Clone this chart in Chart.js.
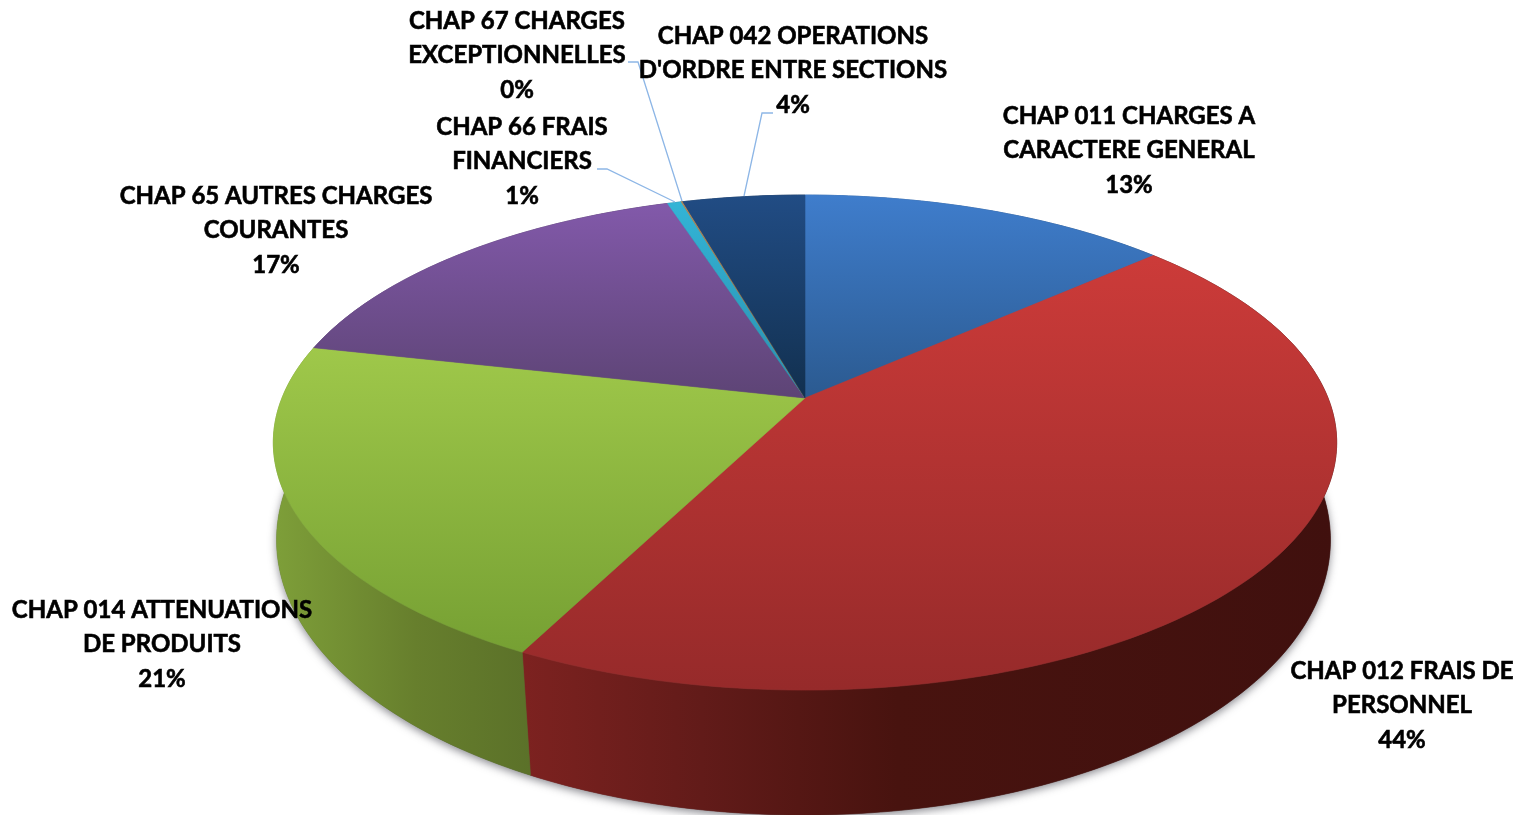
<!DOCTYPE html>
<html>
<head>
<meta charset="utf-8">
<title>Chapitres</title>
<script src="https://cdn.jsdelivr.net/npm/chart.js@4"></script>
<style>
  html, body { margin: 0; padding: 0; background: #fff; overflow: hidden; }
  canvas { display: block; }
</style>
</head>
<body>
<canvas id="piechart" width="1519" height="815"></canvas>
<script>
// data
var categories = [
    ['CHAP 011 CHARGES A', 'CARACTERE GENERAL'],
    ['CHAP 012 FRAIS DE', 'PERSONNEL'],
    ['CHAP 014 ATTENUATIONS', 'DE PRODUITS'],
    ['CHAP 65 AUTRES CHARGES', 'COURANTES'],
    ['CHAP 66 FRAIS', 'FINANCIERS'],
    ['CHAP 67 CHARGES', 'EXCEPTIONNELLES'],
    ["CHAP 042 OPERATIONS", "D'ORDRE ENTRE SECTIONS"]
];
var values = [13.4, 44.1, 21, 16.52, 0.5, 0.06, 4.42];

// styles
var topLight = ['#3f7dcc', '#cc3b39', '#9fc84a', '#8259aa', '#33b4d6', '#b98a55', '#214c84'];
var topDark = ['#2b5a90', '#962a2a', '#76a033', '#5d4475', '#2a8fae', '#a06a30', '#12304f'];
var wallStops = [
    [[0, '#2d5f9c'], [1, '#1d4068']],
    [[0, '#7d2220'], [0.22, '#621b19'], [0.46, '#48130f'], [1, '#40100e']],
    [[0, '#7e9f39'], [0.55, '#677f2d'], [1, '#5b7129']],
    [[0, '#5c4276'], [1, '#3f2d52']],
    [[0, '#2a8fae'], [1, '#1e6a82']],
    [[0, '#a06a30'], [1, '#70491f']],
    [[0, '#12325a'], [1, '#0c2340']]
];

// layout: where the labels sit, and their leader lines
var labelCentres = [[1129, 116], [1402, 671], [162, 610], [276, 196], [522, 127], [517, 21], [793, 36]];
var leaderLines = [
    [[597, 169], [607, 169], [675, 202]],
    [[628, 62], [638, 62], [682, 201]],
    [[773, 113], [762, 113], [744, 196]]
];
var lineStep = 34.5;

// perspective projection of the flat pie, top face and base
var topFace = { x: 805, y: 398, a: 523, b: 239.5, p: 0.18 };
var baseFace = { x: 803.5, y: 498.8, a: 521, b: 268.8, p: 0.15 };

function project(face, angle) {
    var u = Math.cos(angle), v = Math.sin(angle);
    var w = 1 - face.p * v;
    return [face.x + face.a * u / w, face.y + face.b * v / w];
}

function rimPoints(face, start, end) {
    var n = Math.max(2, Math.ceil((end - start) * 60));
    var pts = [];
    for (var i = 0; i <= n; i++) {
        pts.push(project(face, start + (end - start) * i / n));
    }
    return pts;
}

function tracePath(ctx, pts) {
    ctx.beginPath();
    pts.forEach(function (p, i) {
        if (i === 0) ctx.moveTo(p[0], p[1]); else ctx.lineTo(p[0], p[1]);
    });
    ctx.closePath();
}

var pie3d = {
    id: 'pie3d',
    beforeDatasetsDraw: function (chart) {
        var ctx = chart.ctx;
        var arcs = chart.getDatasetMeta(0).data;
        ctx.save();

        // soft shadow under the base
        ctx.save();
        ctx.shadowColor = 'rgba(60,60,70,0.6)';
        ctx.shadowBlur = 9;
        ctx.shadowOffsetY = 3;
        ctx.fillStyle = '#555';
        tracePath(ctx, rimPoints(baseFace, 0, Math.PI * 2));
        ctx.fill();
        ctx.restore();

        // side wall
        arcs.forEach(function (arc, i) {
            var rimTop = rimPoints(topFace, arc.startAngle, arc.endAngle);
            var rimBase = rimPoints(baseFace, arc.startAngle, arc.endAngle);
            var pts = rimTop.concat(rimBase.slice().reverse());
            var xs = pts.map(function (p) { return p[0]; });
            var g = ctx.createLinearGradient(Math.min.apply(null, xs), 0, Math.max.apply(null, xs), 0);
            wallStops[i].forEach(function (s) { g.addColorStop(s[0], s[1]); });
            tracePath(ctx, pts);
            ctx.fillStyle = g;
            ctx.strokeStyle = g;
            ctx.lineWidth = 0.6;
            ctx.fill();
            ctx.stroke();
        });

        // top face, each slice shaded over its own height
        arcs.forEach(function (arc, i) {
            var pts = [[topFace.x, topFace.y]].concat(rimPoints(topFace, arc.startAngle, arc.endAngle));
            var ys = pts.map(function (p) { return p[1]; });
            var g = ctx.createLinearGradient(0, Math.min.apply(null, ys), 0, Math.max.apply(null, ys));
            g.addColorStop(0, topLight[i]);
            g.addColorStop(1, topDark[i]);
            tracePath(ctx, pts);
            ctx.fillStyle = g;
            ctx.strokeStyle = g;
            ctx.lineWidth = 0.6;
            ctx.fill();
            ctx.stroke();
        });

        ctx.restore();
        return false;
    },
    afterDraw: function (chart) {
        var ctx = chart.ctx;
        var total = values.reduce(function (a, b) { return a + b; }, 0);
        ctx.save();

        ctx.strokeStyle = '#8db6e6';
        ctx.lineWidth = 1.3;
        leaderLines.forEach(function (line) {
            ctx.beginPath();
            line.forEach(function (p, i) {
                if (i === 0) ctx.moveTo(p[0], p[1]); else ctx.lineTo(p[0], p[1]);
            });
            ctx.stroke();
        });

        // thin outline because the original face is heavier than Lato bold
        ctx.fillStyle = '#000';
        ctx.strokeStyle = '#000';
        ctx.lineWidth = 0.6;
        ctx.font = 'bold 24px Lato';
        ctx.textAlign = 'center';
        ctx.textBaseline = 'middle';
        categories.forEach(function (lines, i) {
            var rows = lines.concat(Math.round(values[i] / total * 100) + '%');
            rows.forEach(function (text, r) {
                ctx.fillText(text, labelCentres[i][0], labelCentres[i][1] + r * lineStep);
                ctx.strokeText(text, labelCentres[i][0], labelCentres[i][1] + r * lineStep);
            });
        });
        ctx.restore();
    }
};

var ctx = document.getElementById('piechart').getContext('2d');
var myChart = new Chart(ctx, {
    type: 'pie',
    data: {
        labels: categories,
        datasets: [{
            data: values,
            backgroundColor: topLight,
            borderWidth: 0
        }]
    },
    options: {
        responsive: false,
        animation: false,
        plugins: {
            legend: { display: false },
            tooltip: { enabled: false }
        }
    },
    plugins: [pie3d]
});
</script>
</body>
</html>
